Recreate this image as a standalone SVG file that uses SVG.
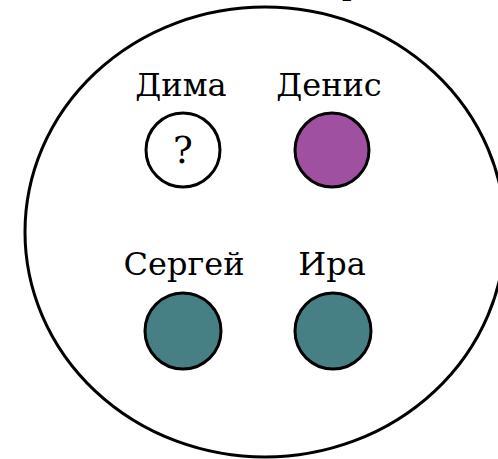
<svg xmlns="http://www.w3.org/2000/svg" width="498" height="459" viewBox="0 0 498 459">
<style>
.lbl{font-family:"DejaVu Serif","Liberation Serif",serif;font-size:32px;fill:#000;text-anchor:middle}
.q{font-size:37px}
.c{stroke:#000;stroke-width:3}
.teal{fill:#467f84}
.purple{fill:#a050a0}
</style>
<rect width="498" height="459" fill="#fff"/>
<g id="set">
<ellipse cx="265" cy="232" rx="240" ry="225" fill="none" stroke="#000" stroke-width="3"/>
<text class="lbl" x="352" y="-6">р</text>
</g>
<g id="dima">
<text class="lbl" x="181" y="96">Дима</text>
<circle class="c" cx="183" cy="150" r="37" fill="#fff"/>
<text class="lbl q" x="183" y="163">?</text>
</g>
<g id="denis">
<text class="lbl" x="329" y="96">Денис</text>
<circle class="c purple" cx="332" cy="150" r="37"/>
</g>
<g id="sergey">
<text class="lbl" x="184" y="275">Сергей</text>
<circle class="c teal" cx="183" cy="331" r="38"/>
</g>
<g id="ira">
<text class="lbl" x="332" y="275">Ира</text>
<circle class="c teal" cx="333" cy="331" r="38"/>
</g>
<g id="connectors"></g>
</svg>
